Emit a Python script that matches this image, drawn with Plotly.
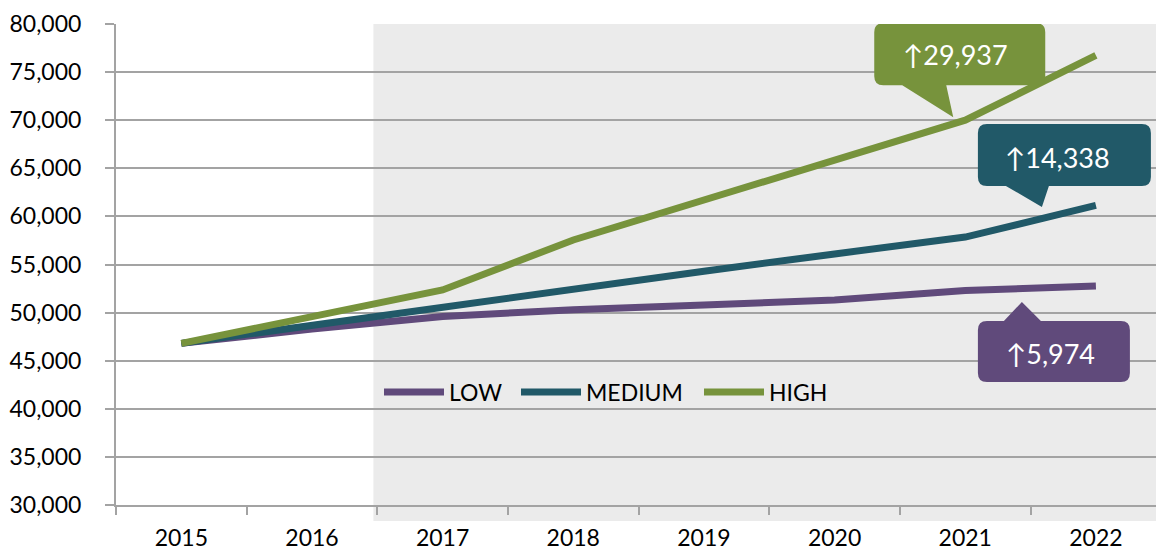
import plotly.graph_objects as go

# ---- data ----
years = [2015, 2016, 2017, 2018, 2019, 2020, 2021, 2022]
low = [46800, 48300, 49600, 50300, 50800, 51300, 52300, 52774]
medium = [46800, 48700, 50600, 52350, 54300, 56100, 57850, 61138]
high = [46800, 49600, 52350, 57550, 61700, 65850, 70000, 76737]
series_names = ["LOW", "MEDIUM", "HIGH"]
series_colors = ["#604a7b", "#215968", "#77933c"]
increases = [5974, 14338, 29937]
ytick_vals = list(range(30000, 80001, 5000))
projection_start = 2016.47

FONT = "Lato, 'Open Sans', sans-serif"
GRID = "#a3a3a3"

legend_ids = ["legend", "legend2", "legend3"]
legend_left_px = [379, 516, 699]

fig = go.Figure()
for name, vals, col, lg in zip(series_names, [low, medium, high], series_colors, legend_ids):
    fig.add_trace(go.Scatter(
        x=years, y=vals, name=name, mode="lines",
        line=dict(color=col, width=7), legend=lg,
    ))

# shaded projection period
fig.add_shape(type="rect", xref="x", yref="paper",
              x0=projection_start, x1=2022.46, y0=-16 / 481, y1=1,
              fillcolor="#ebebeb", line_width=0, layer="below")


def callout_path(L, T, R, B, r, edge, b0, b1, tx, ty):
    # screen-like offsets (y down); converted to y-up for pixel sizemode
    pts = []
    pts.append(("M", L + r, T))
    if edge == "top":
        pts += [("L", b0, T), ("L", tx, ty), ("L", b1, T)]
    pts.append(("L", R - r, T))
    pts.append(("Q", R, T, R, T + r))
    pts.append(("L", R, B - r))
    pts.append(("Q", R, B, R - r, B))
    if edge == "bottom":
        pts += [("L", b1, B), ("L", tx, ty), ("L", b0, B)]
    pts.append(("L", L + r, B))
    pts.append(("Q", L, B, L, B - r))
    pts.append(("L", L, T + r))
    pts.append(("Q", L, T, L + r, T))
    s = ""
    for p in pts:
        cmd = p[0]
        nums = p[1:]
        coords = []
        for i in range(0, len(nums), 2):
            coords.append(f"{nums[i]:.1f},{-nums[i + 1]:.1f}")
        s += cmd + " ".join(coords) + " "
    return s + "Z"


callouts = [
    # (series index, anchor year index, box L,T,R,B, edge, base0, base1, tip, text offset)
    (2, 6, (-91, -97, 80, -35), "bottom", -63, -19, (-12, -3), (-10, 66)),
    (1, 7, (-118, -81.5, 55, -19.5), "bottom", -90, -47, (-54, 1.5), (-38, 48)),
    (0, 7, (-118, 35, 34, 96), "top", -92, -55, (-74, 16), (-45, -68)),
]
series_vals = [low, medium, high]
for si, yi, (L, T, R, B), edge, b0, b1, (tx, ty), (ox, oy) in callouts:
    ax_x = years[yi]
    ax_y = series_vals[si][yi]
    fig.add_shape(type="path", xref="x", yref="y",
                  xsizemode="pixel", ysizemode="pixel",
                  xanchor=ax_x, yanchor=ax_y,
                  path=callout_path(L, T, R, B, 9, edge, b0, b1, tx, ty),
                  fillcolor=series_colors[si], line_width=0, layer="above")
    fig.add_annotation(x=ax_x, y=ax_y, xref="x", yref="y",
                       text=f"↑{increases[si]:,}", showarrow=False,
                       xshift=ox, yshift=oy,
                       font=dict(family=FONT, size=27, color="white"))

legend_common = dict(orientation="h", xanchor="left", y=(505 - 392) / 481, yanchor="middle",
                     bgcolor="rgba(0,0,0,0)", itemwidth=60,
                     font=dict(family=FONT, size=23, color="black"))
fig.update_layout(
    width=1156, height=551,
    margin=dict(l=116, r=0, t=24, b=46),
    paper_bgcolor="white", plot_bgcolor="rgba(0,0,0,0)",
    font=dict(family=FONT, size=23, color="black"),
    showlegend=True,
    legend=dict(x=(legend_left_px[0] - 116) / 1040, **legend_common),
    legend2=dict(x=(legend_left_px[1] - 116) / 1040, **legend_common),
    legend3=dict(x=(legend_left_px[2] - 116) / 1040, **legend_common),
)
fig.update_xaxes(
    range=[2014.5, 2022.46], tickvals=years, ticktext=[str(y) for y in years],
    ticks="", showgrid=False, showline=True, linecolor=GRID, linewidth=2,
    ticklabelstandoff=11, zeroline=False,
    minor=dict(tickvals=[y - 0.5 for y in years] + [years[-1] + 0.5],
               ticks="outside", ticklen=8, tickcolor=GRID, tickwidth=2, showgrid=False),
)
fig.update_yaxes(
    range=[30000, 80000], tickvals=ytick_vals, tickformat=",",
    ticks="outside", ticklen=9, tickcolor=GRID, tickwidth=2,
    showgrid=True, gridcolor=GRID, gridwidth=2,
    showline=True, linecolor=GRID, linewidth=2, zeroline=False,
    ticklabelstandoff=19,
)

fig.write_html("out.html")
